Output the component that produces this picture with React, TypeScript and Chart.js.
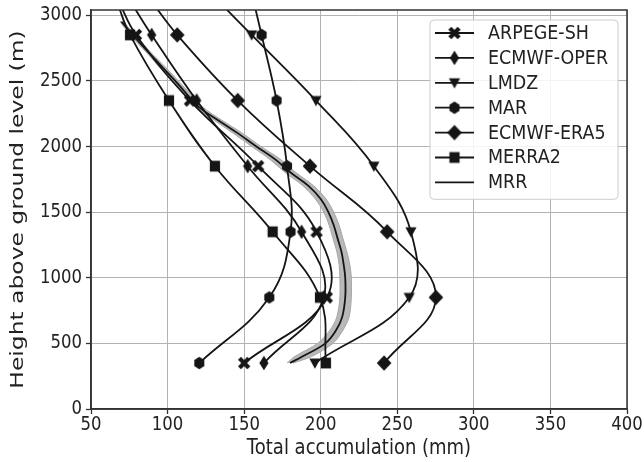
import React, { useEffect, useRef } from 'react';
import { Chart, registerables } from 'chart.js';

Chart.register(...registerables);

const FONT = '"DejaVu Sans", sans-serif';

const X_TICKS = [50, 100, 150, 200, 250, 300, 350, 400];
const Y_TICKS = [0, 500, 1000, 1500, 2000, 2500, 3000];
const X_TITLE = 'Total accumulation (mm)';
const Y_TITLE = 'Height above ground level (m)';

// model heights (m); the last one lies above the frame so the lines leave the top edge
const HEIGHTS = [350, 850, 1350, 1850, 2350, 2850, 3100];
const ARPEGE_SH = [150, 204, 197.3, 159.2, 114.6, 79.4, 68.3];
const ECMWF_OPER = [162.9, 202, 187.5, 152.3, 119, 89.6, 76];
const LMDZ = [196.2, 257.8, 258.9, 234.7, 196.9, 154.9, 133.9];
const MAR = [120.7, 166.4, 180.3, 178, 171.2, 161.4, 156.3];
const ECMWF_ERA5 = [241.4, 275.2, 243.4, 193, 145.8, 106.3, 89.8];
const MERRA2 = [203.4, 199.5, 168.6, 130.9, 100.9, 75.5, 67];

// observed MRR profile with its uncertainty band
const MRR_HEIGHTS = [350, 400, 500, 600, 700, 850, 1000, 1100, 1200, 1300, 1400, 1500, 1600, 1700, 1800, 1900, 2000, 2100, 2200, 2300, 2400, 2500, 2600, 2700, 2800, 2950];
const MRR = [180, 188, 203, 210, 214, 216, 216, 215, 213.5, 211, 208.5, 205, 200, 192, 180.5, 170.5, 158, 146, 133, 120.5, 112.5, 105, 97, 89, 81, 70];
const MRR_LOW = [178, 183, 198, 206, 210.5, 212.5, 212.5, 212, 210.5, 208, 205.5, 202, 196.5, 188.5, 177, 167, 155, 143, 130.5, 118.5, 110.5, 103, 95, 87.5, 79.5, 69];
const MRR_HIGH = [182, 194, 208, 214.5, 218.5, 220, 220, 219, 217, 214.5, 212, 208.5, 203.5, 195.5, 184, 174, 161, 149, 135.5, 123, 115, 107, 99, 90.5, 82.5, 71];

const LABELS = ['ARPEGE-SH', 'ECMWF-OPER', 'LMDZ', 'MAR', 'ECMWF-ERA5', 'MERRA2', 'MRR'];
const MARKERS = ['X', 'd', 'v', 'h', 'D', 's', ''];
const SERIES = [ARPEGE_SH, ECMWF_OPER, LMDZ, MAR, ECMWF_ERA5, MERRA2];

const INK = '#151515';
const TEXT = '#222';

function makeMarker(kind: string): HTMLCanvasElement {
  const s = 18;
  const c = document.createElement('canvas');
  c.width = s;
  c.height = s;
  const g = c.getContext('2d')!;
  g.fillStyle = INK;
  g.translate(s / 2, s / 2);
  g.beginPath();
  const poly = (pts: number[][]) => {
    pts.forEach((p, i) => (i === 0 ? g.moveTo(p[0], p[1]) : g.lineTo(p[0], p[1])));
    g.closePath();
  };
  if (kind === 'X') {
    g.rotate(Math.PI / 4);
    const L = 6.6, w = 2.1;
    poly([[w, L], [w, w], [L, w], [L, -w], [w, -w], [w, -L], [-w, -L], [-w, -w], [-L, -w], [-L, w], [-w, w], [-w, L]]);
  } else if (kind === 'd') {
    poly([[0, -7.2], [4.6, 0], [0, 7.2], [-4.6, 0]]);
  } else if (kind === 'v') {
    poly([[-5.6, -4.6], [5.6, -4.6], [0, 5.8]]);
  } else if (kind === 'h') {
    const pts: number[][] = [];
    for (let k = 0; k < 6; k++) {
      const a = (-90 + 60 * k) * Math.PI / 180;
      pts.push([5.8 * Math.cos(a), 6.2 * Math.sin(a)]);
    }
    poly(pts);
  } else if (kind === 'D') {
    poly([[0, -7.8], [7.3, 0], [0, 7.8], [-7.3, 0]]);
  } else if (kind === 's') {
    poly([[-5.1, -5.4], [5.1, -5.4], [5.1, 5.4], [-5.1, 5.4]]);
  }
  g.fill();
  return c;
}

function drawText(ctx: CanvasRenderingContext2D, text: string, x: number, y: number, size: number, stretch: number, align: CanvasTextAlign, rotate = false) {
  ctx.save();
  ctx.translate(x, y);
  if (rotate) {
    ctx.rotate(-Math.PI / 2);
    ctx.scale(stretch, 1);
  } else {
    ctx.scale(1, stretch);
  }
  ctx.font = `${size}px ${FONT}`;
  ctx.fillStyle = TEXT;
  ctx.textAlign = align;
  ctx.textBaseline = 'middle';
  ctx.fillText(text, 0, 0);
  ctx.restore();
}

export default function App() {
  const ref = useRef<HTMLCanvasElement>(null);

  useEffect(() => {
    const canvas = ref.current!;
    const markerImgs = MARKERS.map((m) => (m ? makeMarker(m) : null));

    const modelSets = SERIES.map((vals, si) => ({
      label: LABELS[si],
      data: HEIGHTS.map((h, i) => ({ x: vals[i], y: h })),
      showLine: true,
      borderColor: INK,
      backgroundColor: INK,
      borderWidth: 1.8,
      tension: 0.4,
      fill: false,
      pointStyle: markerImgs[si] as any,
      pointRadius: HEIGHTS.map((h) => (h > 3000 ? 0 : 5)),
      order: 1,
    }));

    const mrrSet = {
      label: 'MRR',
      data: MRR_HEIGHTS.map((h, i) => ({ x: MRR[i], y: h })),
      showLine: true,
      borderColor: INK,
      borderWidth: 1.8,
      tension: 0.4,
      fill: false,
      pointRadius: 0,
      order: 0,
    };

    const bandSet = {
      label: 'band',
      data: [
        ...MRR_HEIGHTS.map((h, i) => ({ x: MRR_LOW[i], y: h })),
        ...MRR_HEIGHTS.map((h, i) => ({ x: MRR_HIGH[i], y: h })).reverse(),
      ],
      showLine: true,
      borderColor: '#a6a6a6',
      backgroundColor: '#b8b8b8',
      borderWidth: 1,
      tension: 0.3,
      fill: 'shape',
      pointRadius: 0,
      order: 5,
    };

    const framePlugin = {
      id: 'frame',
      afterDatasetsDraw(chart: any) {
        const { ctx, chartArea: a } = chart;
        ctx.save();
        ctx.strokeStyle = '#333';
        ctx.lineWidth = 1.5;
        ctx.strokeRect(a.left, a.top, a.right - a.left, a.bottom - a.top);
        ctx.restore();
      },
    };

    const axisTextPlugin = {
      id: 'axisText',
      afterDraw(chart: any) {
        const { ctx, chartArea: a, scales } = chart;
        const xs = scales.x;
        const ys = scales.y;
        X_TICKS.forEach((v) => drawText(ctx, String(v), xs.getPixelForValue(v), a.bottom + 16, 16.5, 1.18, 'center'));
        Y_TICKS.forEach((v) => drawText(ctx, String(v), a.left - 9, ys.getPixelForValue(v), 16.5, 1.18, 'right'));
        drawText(ctx, X_TITLE, (a.left + a.right) / 2, a.bottom + 39, 18, 1.18, 'center');
        drawText(ctx, Y_TITLE, 18, (a.top + a.bottom) / 2, 18, 1.3, 'center', true);
      },
    };

    const legendPlugin = {
      id: 'boxLegend',
      afterDraw(chart: any) {
        const { ctx, chartArea: a } = chart;
        const x0 = a.right - 197;
        const y0 = a.top + 10;
        const w = 188;
        const rowH = 24.9;
        const h = rowH * LABELS.length + 5;
        ctx.save();
        ctx.beginPath();
        ctx.roundRect(x0, y0, w, h, 4);
        ctx.fillStyle = 'rgba(255,255,255,0.85)';
        ctx.fill();
        ctx.strokeStyle = '#cccccc';
        ctx.lineWidth = 1;
        ctx.stroke();
        ctx.restore();
        LABELS.forEach((lab, i) => {
          const y = y0 + 13 + i * rowH;
          ctx.save();
          ctx.beginPath();
          ctx.moveTo(x0 + 5, y);
          ctx.lineTo(x0 + 44, y);
          ctx.strokeStyle = INK;
          ctx.lineWidth = 1.8;
          ctx.stroke();
          const img = markerImgs[i];
          if (img) ctx.drawImage(img, x0 + 24.5 - img.width / 2, y - img.height / 2);
          ctx.restore();
          drawText(ctx, lab, x0 + 58, y + 1, 17.5, 1.08, 'left');
        });
      },
    };

    const chart = new Chart(canvas, {
      type: 'scatter',
      data: { datasets: [...modelSets, mrrSet, bandSet] as any },
      options: {
        animation: false,
        responsive: false,
        devicePixelRatio: 1,
        events: [],
        layout: { padding: { top: 10, right: 17, left: 0, bottom: 0 } },
        elements: { line: { capBezierPoints: false } as any },
        plugins: { legend: { display: false }, tooltip: { enabled: false } },
        scales: {
          x: {
            type: 'linear',
            min: 50,
            max: 400,
            afterBuildTicks: (s: any) => {
              s.ticks = X_TICKS.map((v) => ({ value: v }));
            },
            afterFit: (s: any) => {
              s.height = 53;
            },
            grid: { color: '#b3b3b3', lineWidth: 1, tickLength: 5, tickColor: '#333', tickWidth: 1.3 },
            border: { color: '#333', width: 1.5 },
            ticks: { display: false },
            title: { display: false },
          },
          y: {
            type: 'linear',
            min: 0,
            max: 3040,
            afterBuildTicks: (s: any) => {
              s.ticks = Y_TICKS.map((v) => ({ value: v }));
            },
            afterFit: (s: any) => {
              s.width = 91;
            },
            grid: { color: '#b3b3b3', lineWidth: 1, tickLength: 5, tickColor: '#333', tickWidth: 1.3 },
            border: { color: '#333', width: 1.5 },
            ticks: { display: false },
            title: { display: false },
          },
        },
      },
      plugins: [framePlugin, axisTextPlugin, legendPlugin],
    });

    return () => chart.destroy();
  }, []);

  return (
    <div style={{ position: 'absolute', left: 0, top: 0, width: 644, height: 462, background: '#fff' }}>
      <canvas ref={ref} width={644} height={462} style={{ display: 'block', width: 644, height: 462 }} />
    </div>
  );
}
